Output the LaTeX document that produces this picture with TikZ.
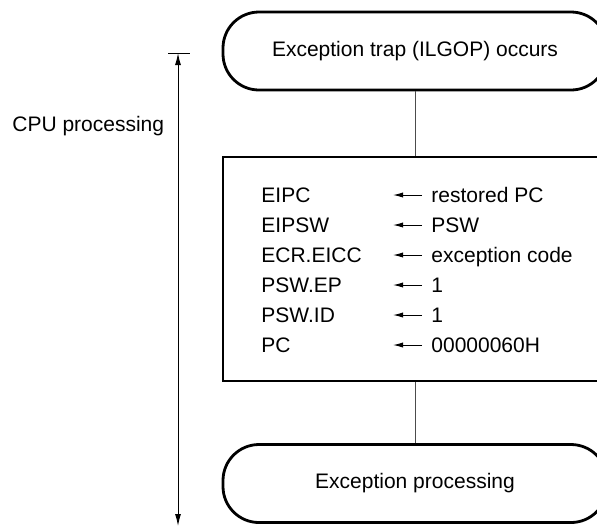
\documentclass[tikz,border=0pt]{standalone}
\usepackage{fontspec}
\setmainfont{Liberation Sans}
\usetikzlibrary{arrows.meta}
\tikzset{
  flow term/.style={draw,line width=1.4pt,rounded corners=18pt,minimum width=192pt,minimum height=39pt,inner sep=0pt},
  flow box/.style={draw,line width=1.4pt,minimum width=192pt,minimum height=112pt,inner sep=0pt},
  flow link/.style={draw=black!70,line width=.5pt},
  reg text/.style={anchor=west,inner sep=0pt,text height=7.5pt,text depth=0pt},
  reg arrow/.style={line width=.5pt,-{Latex[length=5pt,width=2.6pt]}},
  span line/.style={line width=.5pt,{Latex[length=6pt,width=3pt]}-{Latex[length=6pt,width=3pt]}}
}

\begin{document}
\begin{tikzpicture}[x=.5pt,y=-.5pt,font=\fontsize{10.5}{12.6}\selectfont]
  \clip (0,0) rectangle (597,527);
  \node[flow term] (trap) at (415,51) {Exception trap (ILGOP) occurs};
  \node[flow box] (regs) at (415,269) {};
  \node[flow term] (handler) at (415,483.5) {Exception processing};
  \draw[flow link] (trap) -- (regs);
  \draw[flow link] (regs) -- (handler);
  \foreach \regname/\regval [count=\i] in {EIPC/restored PC,EIPSW/PSW,ECR.EICC/exception code,PSW.EP/1,PSW.ID/1,PC/00000060H}{
    \node[reg text] (r\i) at (261,165+30*\i) {\regname};
    \node[reg text] (v\i) at (431,165+30*\i) {\regval};
    \coordinate (t\i) at (393,165+30*\i);
    \draw[reg arrow] ([xshift=-4.5pt]v\i.west) -- (t\i);
  }
  % CPU span on the left
  \node[anchor=west,inner sep=0pt] (cpu) at (12,126) {CPU processing};
  \coordinate (barl) at (168,53);
  \coordinate (barr) at (190,53);
  \coordinate (spantop) at (178,53);
  \coordinate (spanbot) at (178,526);
  \draw[line width=.5pt] (barl) -- (barr);
  \draw[span line] (spantop) -- (spanbot);
\end{tikzpicture}
\end{document}
